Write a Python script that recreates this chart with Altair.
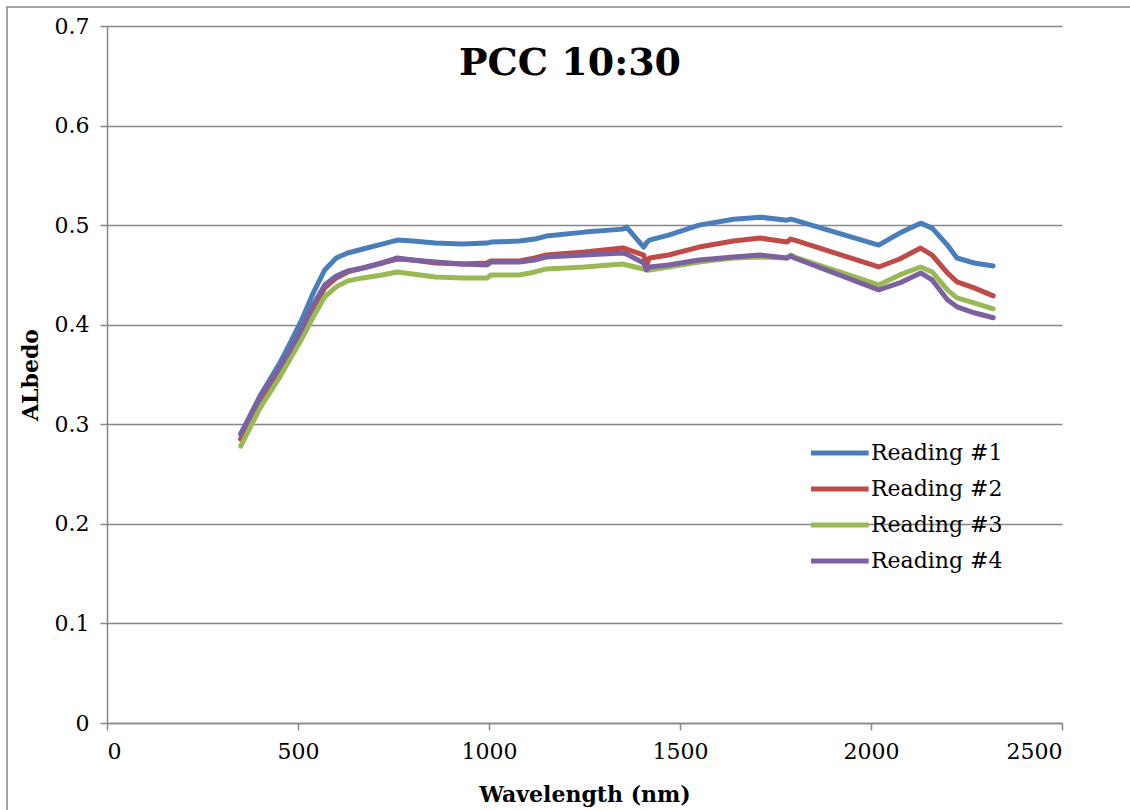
import altair as alt
import pandas as pd

# Wavelength samples (nm) shared by every reading
wavelength = [350, 400, 450, 480, 510, 540, 570, 600, 630, 670, 720, 760, 800, 860,
              930, 995, 1005, 1080, 1120, 1150, 1250, 1350, 1360, 1405, 1412, 1420,
              1470, 1550, 1640, 1710, 1780, 1790, 1800, 2020, 2075, 2130, 2160, 2200,
              2225, 2270, 2320]

reading_1 = [0.290, 0.328, 0.360, 0.382, 0.405, 0.432, 0.455, 0.467, 0.472, 0.476,
             0.481, 0.485, 0.484, 0.482, 0.481, 0.482, 0.483, 0.484, 0.486, 0.489,
             0.493, 0.496, 0.498, 0.478, 0.482, 0.485, 0.490, 0.500, 0.506, 0.508,
             0.505, 0.506, 0.505, 0.480, 0.492, 0.502, 0.497, 0.480, 0.467, 0.462,
             0.459]
reading_2 = [0.285, 0.322, 0.352, 0.372, 0.392, 0.415, 0.437, 0.447, 0.453, 0.457,
             0.462, 0.466, 0.465, 0.462, 0.461, 0.462, 0.464, 0.464, 0.467, 0.470,
             0.473, 0.477, 0.476, 0.470, 0.460, 0.467, 0.470, 0.478, 0.484, 0.487,
             0.483, 0.486, 0.485, 0.458, 0.466, 0.477, 0.470, 0.452, 0.443, 0.437,
             0.429]
reading_3 = [0.278, 0.316, 0.346, 0.366, 0.386, 0.408, 0.428, 0.438, 0.444, 0.447,
             0.450, 0.453, 0.451, 0.448, 0.447, 0.447, 0.450, 0.450, 0.453, 0.456,
             0.458, 0.461, 0.460, 0.456, 0.455, 0.455, 0.458, 0.463, 0.467, 0.468,
             0.467, 0.470, 0.468, 0.440, 0.450, 0.458, 0.453, 0.435, 0.427, 0.422,
             0.416]
reading_4 = [0.290, 0.327, 0.356, 0.375, 0.396, 0.420, 0.440, 0.449, 0.454, 0.457,
             0.462, 0.467, 0.465, 0.463, 0.461, 0.460, 0.463, 0.463, 0.465, 0.468,
             0.470, 0.472, 0.471, 0.462, 0.455, 0.458, 0.460, 0.465, 0.468, 0.470,
             0.467, 0.469, 0.467, 0.435, 0.442, 0.452, 0.445, 0.425, 0.418, 0.412,
             0.407]

series_names = ["Reading #1", "Reading #2", "Reading #3", "Reading #4"]
series_colors = ["#4A7EBB", "#BE4B48", "#98B954", "#7D60A0"]
x_ticks = [0, 500, 1000, 1500, 2000, 2500]
y_ticks = [0, 0.1, 0.2, 0.3, 0.4, 0.5, 0.6, 0.7]

rows = []
for name, values in zip(series_names, [reading_1, reading_2, reading_3, reading_4]):
    for w, a in zip(wavelength, values):
        rows.append({"Wavelength": w, "Albedo": a, "Series": name})
df = pd.DataFrame(rows)

FONT = "DejaVu Serif"
GRID = "#878787"
W, H = 955, 697

lines = alt.Chart(df).mark_line(strokeWidth=5, strokeCap="round", strokeJoin="round").encode(
    x=alt.X("Wavelength:Q",
            scale=alt.Scale(domain=[0, 2500], nice=False),
            axis=alt.Axis(values=x_ticks, grid=False, title="Wavelength (nm)",
                          format="d", tickSize=7, labelPadding=11, titlePadding=22)),
    y=alt.Y("Albedo:Q",
            scale=alt.Scale(domain=[0, 0.7], nice=False),
            axis=alt.Axis(values=y_ticks, grid=True, title="ALbedo",
                          format="~g", tickSize=7, labelPadding=11, titlePadding=12)),
    color=alt.Color("Series:N",
                    scale=alt.Scale(domain=series_names, range=series_colors),
                    legend=alt.Legend(title=None, orient="none", legendX=701, legendY=406,
                                      symbolType="M-1,0H2.2", symbolSize=1300,
                                      symbolStrokeWidth=5, labelOffset=21,
                                      labelFont=FONT, labelFontSize=22,
                                      labelColor="#000000", rowPadding=4,
                                      labelLimit=300)),
    order=alt.Order("Series:N"),
)

title = alt.Chart(pd.DataFrame({"t": ["PCC 10:30"]})).mark_text(
    font=FONT, fontSize=38, fontWeight="bold", color="#000000",
    align="center", baseline="alphabetic",
).encode(x=alt.value(463), y=alt.value(49), text="t:N")

frame = alt.Chart(pd.DataFrame({"t": [0]})).mark_rect(
    fill=None, stroke=GRID, strokeWidth=1.5,
).encode(x=alt.value(-100), x2=alt.value(1200), y=alt.value(-19), y2=alt.value(900))

chart = alt.layer(frame, lines, title).properties(
    width=W, height=H,
    padding={"left": 107, "top": 26, "right": 68, "bottom": 87},
    autosize=alt.AutoSizeParams(type="none"),
    background="#ffffff",
).configure_view(stroke=None).configure_axis(
    labelFont=FONT, labelFontSize=22, labelColor="#000000",
    titleFont=FONT, titleFontSize=22, titleFontWeight="bold", titleColor="#000000",
    domainColor=GRID, domainWidth=1.5, tickColor=GRID, tickWidth=1.5,
    gridColor=GRID, gridWidth=1.5, gridOpacity=1,
).configure_axisX(domain=True).configure_axisY(domain=True)

chart.save("out.html", embed_options={"renderer": "svg", "actions": False})
